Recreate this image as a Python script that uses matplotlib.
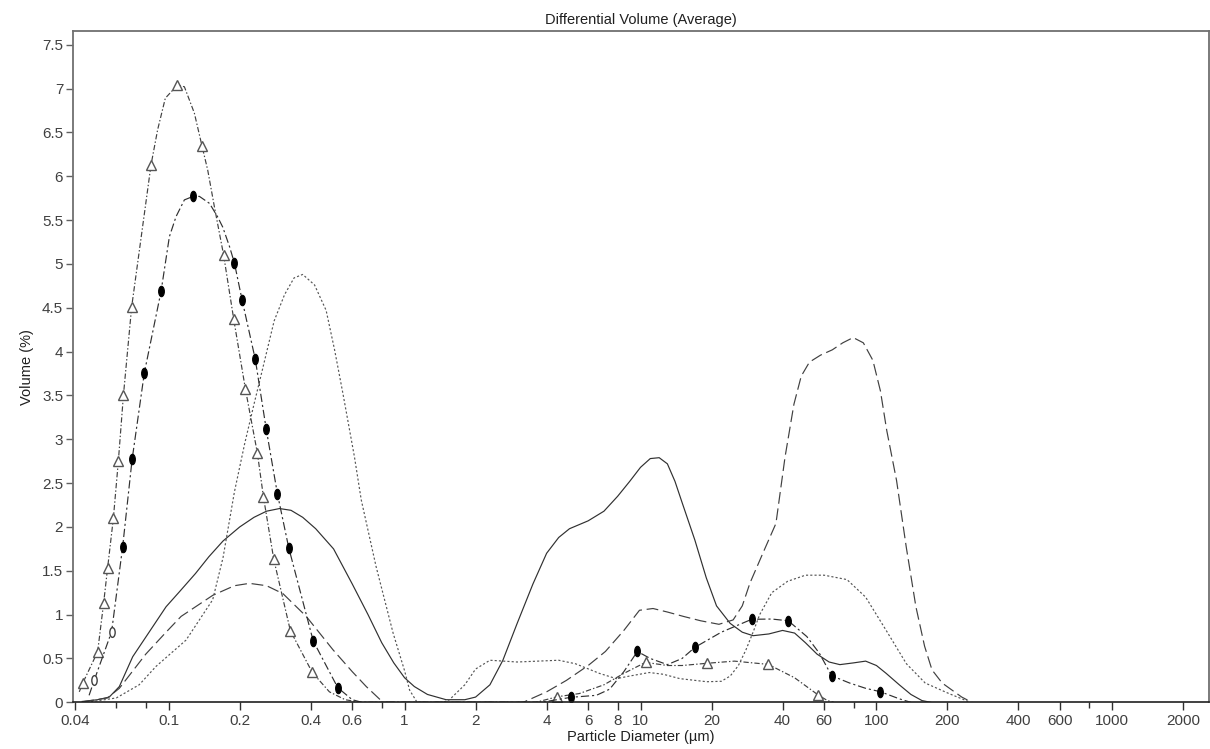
import numpy as np
import matplotlib
matplotlib.use("Agg")
import matplotlib.pyplot as plt
from matplotlib.path import Path
from matplotlib.transforms import Affine2D

plt.rcParams['font.family'] = ['Liberation Sans', 'DejaVu Sans']

# solid line
solid_x = [0.043, 0.05, 0.056, 0.0618, 0.0704, 0.0975, 0.111, 0.13, 0.148, 0.17, 0.2, 0.23, 0.26,
           0.295, 0.33, 0.37, 0.42, 0.5, 0.6, 0.7, 0.8, 0.9, 1.0, 1.1, 1.25, 1.5, 1.8, 2.0, 2.3,
           2.61, 3.0, 3.5, 4.0, 4.5, 5.0, 6.0, 7.0, 8.0, 9.0, 10, 11, 12, 13, 14, 15, 17, 19, 21,
           24, 27, 30, 35, 40, 45, 50, 56, 63, 70, 80, 90, 100, 110, 125, 140, 156, 170]
solid_y = [0.01, 0.03, 0.06, 0.18, 0.52, 1.09, 1.26, 1.47, 1.66, 1.84, 2.0, 2.11, 2.18,
           2.21, 2.19, 2.11, 1.98, 1.75, 1.35, 1.0, 0.68, 0.45, 0.28, 0.18, 0.09, 0.03, 0.03, 0.06, 0.2,
           0.48, 0.9, 1.35, 1.7, 1.88, 1.98, 2.07, 2.18, 2.35, 2.52, 2.68, 2.78, 2.79, 2.72, 2.52, 2.28,
           1.85, 1.42, 1.1, 0.9, 0.8, 0.76, 0.78, 0.82, 0.79, 0.68, 0.55, 0.46, 0.43, 0.45, 0.47, 0.42,
           0.33, 0.2, 0.09, 0.02, 0.0]

# long dashed line
ldash_x = [0.043, 0.055, 0.0618, 0.08, 0.0975, 0.1129, 0.1537, 0.19, 0.22, 0.26, 0.305, 0.383,
           0.497, 0.6, 0.688, 0.81, 3.18, 4.0, 4.85, 6.0, 7.1, 8.5, 9.9, 11.3, 13, 15.2, 18, 21.5,
           24.7, 27, 29.1, 33, 37.5, 41, 44.7, 48, 52, 58, 65, 72, 79.7, 88, 96.6, 104, 110.6,
           121.7, 133.8, 147, 160, 172, 190, 209, 230, 254]
ldash_y = [0.005, 0.05, 0.16, 0.55, 0.8, 0.98, 1.22, 1.33, 1.357, 1.33, 1.24, 0.98,
           0.6, 0.35, 0.18, 0.0, 0.0, 0.12, 0.25, 0.42, 0.58, 0.82, 1.05, 1.07, 1.03, 0.98, 0.93, 0.89,
           0.94, 1.1, 1.36, 1.7, 2.04, 2.8, 3.4, 3.72, 3.88, 3.96, 4.02, 4.1, 4.16, 4.1, 3.9, 3.55, 3.1,
           2.53, 1.77, 1.09, 0.64, 0.37, 0.22, 0.14, 0.06, 0.0]

# dotted line
dot_x = [0.045, 0.06, 0.075, 0.0884, 0.1185, 0.1537, 0.17, 0.19, 0.21, 0.23, 0.25, 0.28, 0.31,
         0.34, 0.37, 0.4153, 0.465, 0.505, 0.548, 0.613, 0.655, 0.757, 0.894, 1.0, 1.05, 1.13,
         1.45, 1.55, 1.8, 2.0, 2.3, 3.0, 4.5, 5.3, 6.7, 7.9, 9.0, 10.9, 12.5, 14.7, 19.1, 22, 24,
         26, 28, 30, 32, 36, 42, 50, 60, 75, 90, 110, 134, 161, 203, 250]
dot_y = [0.0, 0.05, 0.2, 0.41, 0.71, 1.17, 1.65, 2.4, 2.95, 3.4, 3.8, 4.35, 4.65,
         4.84, 4.88, 4.76, 4.47, 4.02, 3.52, 2.8, 2.31, 1.55, 0.79, 0.36, 0.14, 0.0,
         0.0, 0.03, 0.2, 0.38, 0.48, 0.46, 0.48, 0.44, 0.33, 0.27, 0.3, 0.34, 0.32, 0.27, 0.235, 0.24,
         0.3, 0.42, 0.6, 0.8, 1.0, 1.25, 1.38, 1.45, 1.45, 1.4, 1.2, 0.82, 0.44, 0.22, 0.1, 0.0]

# dash-dot line with open triangles
tri_x = [0.0418, 0.0432, 0.050, 0.053, 0.0551, 0.0583, 0.0612, 0.0643, 0.0697, 0.0842, 0.0898,
         0.0968, 0.109, 0.1166, 0.1285, 0.1386, 0.1464, 0.1563, 0.171, 0.1887, 0.2116, 0.2378,
         0.2523, 0.279, 0.328, 0.406, 0.48, 0.56, 0.65, 3.6, 4.44, 5.5, 7.0, 8.5, 10.5, 13, 15,
         19.05, 25, 34.8, 45, 56.7, 62, 66]
tri_y = [0.12, 0.217, 0.577, 1.13, 1.53, 2.1, 2.75, 3.5, 4.51, 6.13, 6.53,
         6.89, 7.04, 7.02, 6.72, 6.34, 6.07, 5.65, 5.10, 4.37, 3.57, 2.84,
         2.34, 1.63, 0.817, 0.342, 0.12, 0.03, 0.0, 0.0, 0.064, 0.1, 0.2, 0.33, 0.456, 0.42, 0.42,
         0.445, 0.47, 0.433, 0.28, 0.083, 0.02, 0.0]
tri_marks = [1, 2, 3, 4, 5, 6, 7, 8, 9, 12, 15, 18, 19, 20, 21, 22, 23, 24, 25, 30, 34, 37, 39, 41]

# dash-dot line with filled ovals
ov_x = [0.046, 0.0484, 0.0573, 0.0638, 0.07, 0.0789, 0.0929, 0.1007, 0.1075, 0.1166, 0.1269,
        0.135, 0.149, 0.161, 0.1695, 0.181, 0.19, 0.2047, 0.233, 0.259, 0.289, 0.323, 0.41,
        0.521, 0.6, 0.66, 3.8, 5.06, 6.5, 7.4, 8.5, 9.7, 11, 13, 15, 17, 22, 29.6, 36, 42.3,
        50.7, 57.3, 64.6, 77, 90, 104, 125, 140]
ov_y = [0.08, 0.254, 0.805, 1.77, 2.77, 3.76, 4.69, 5.31, 5.54, 5.73, 5.77,
        5.77, 5.69, 5.54, 5.42, 5.2, 5.01, 4.59, 3.91, 3.12, 2.38, 1.76, 0.70,
        0.167, 0.03, 0.0, 0.0, 0.057, 0.08, 0.15, 0.35, 0.58, 0.5, 0.43, 0.5, 0.627, 0.8, 0.947, 0.95, 0.93,
        0.75, 0.56, 0.303, 0.22, 0.16, 0.121, 0.04, 0.0]
ov_marks = [3, 4, 5, 6, 10, 16, 17, 18, 19, 20, 21, 22, 23, 27, 31, 35, 37, 39, 42, 45]
ov_hollow = [1, 2]

x_major = [0.04, 0.1, 0.2, 0.4, 0.6, 1, 2, 4, 6, 8, 10, 20, 40, 60, 100, 200, 400, 600, 1000, 2000]
x_minor = [0.06, 0.08, 0.8, 80, 800]
y_ticks = np.arange(0, 7.51, 0.5)

# oval marker (taller than wide)
oval = Path.unit_circle().transformed(Affine2D().scale(0.55, 1.0))

fig = plt.figure(figsize=(12.1, 7.49), dpi=100)
ax = fig.add_axes([0.0603, 0.0623, 0.9386, 0.8963])

lw = 0.85
ax.plot(solid_x, solid_y, color='#303030', lw=lw, ls='-')
ax.plot(ldash_x, ldash_y, color='#404040', lw=lw, ls=(0, (10, 4)))
ax.plot(dot_x, dot_y, color='#555555', lw=lw, ls=(0, (1.8, 1.8)))
ax.plot(tri_x, tri_y, color='#404040', lw=lw, ls=(0, (4.5, 1.8, 1.2, 1.8)),
        marker='^', markevery=tri_marks, ms=6.5, mfc='white', mec='#555555', mew=1.0)
ax.plot(ov_x, ov_y, color='#303030', lw=lw, ls=(0, (7, 2.5, 1.8, 2.5)),
        marker=oval, markevery=ov_marks, ms=7.5, mfc='black', mec='black', mew=0.8)
ax.plot([ov_x[i] for i in ov_hollow], [ov_y[i] for i in ov_hollow], ls='none',
        marker=oval, ms=7, mfc='white', mec='#404040', mew=1.0)

ax.set_xscale('log')
ax.set_xlim(0.0393, 2560)
ax.set_ylim(0, 7.656)
ax.set_xticks(x_major)
ax.set_xticklabels([f'{v:g}' for v in x_major])
ax.set_xticks(x_minor, minor=True)
ax.set_xticklabels([], minor=True)
ax.set_yticks(y_ticks)
ax.set_yticklabels([f'{v:g}' for v in y_ticks])

ax.tick_params(axis='x', which='major', length=5.5, width=1, color='#303030',
               labelsize=11, labelcolor='#404040', pad=3)
ax.tick_params(axis='x', which='minor', length=4, width=1, color='#303030')
ax.tick_params(axis='y', which='major', length=5, width=1, color='#606060',
               labelsize=11, labelcolor='#404040', pad=2)
ax.tick_params(axis='y', which='minor', left=False)

for side in ['top', 'left', 'right']:
    ax.spines[side].set_color('#707070')
    ax.spines[side].set_linewidth(1.3)
ax.spines['bottom'].set_color('#202020')
ax.spines['bottom'].set_linewidth(1.2)

ax.set_title('Differential Volume (Average)', fontsize=10.5, color='#202020', pad=5)
ax.set_xlabel('Particle Diameter (µm)', fontsize=10.5, color='#202020', labelpad=1)
ax.set_ylabel('Volume (%)', fontsize=10.5, color='#202020', labelpad=6)

fig.savefig('out.png', dpi=100)
